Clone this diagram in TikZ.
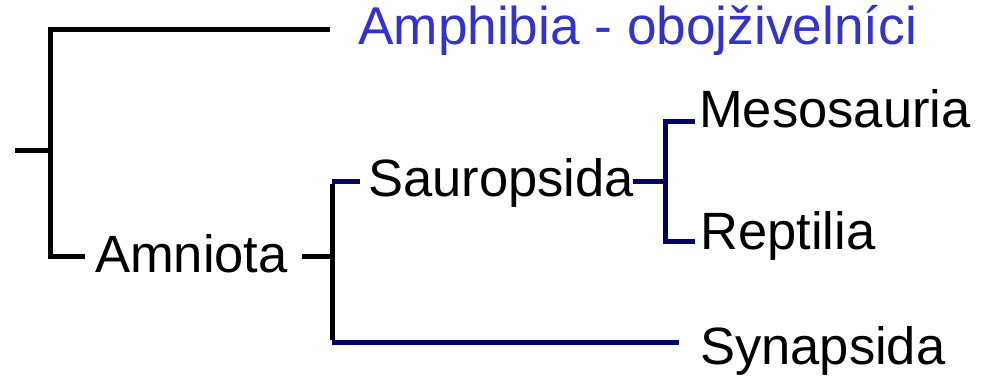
\documentclass[tikz,border=0pt]{standalone}
\usepackage{fontspec}
\setmainfont{Liberation Sans}
\definecolor{navy}{RGB}{0,0,102}
\definecolor{amphblue}{RGB}{51,51,204}
\begin{document}
\begin{tikzpicture}[
    x=1pt, y=-1pt,
    font=\fontsize{52.5}{62}\selectfont,
    % Stile für Konsistenz
    branch/.style={draw=black, line width=5pt},
    subbranch/.style={draw=navy, line width=5pt},
    taxon/.style={anchor=base west, inner sep=0pt}
]
    \useasboundingbox (0,0) rectangle (983,379);

    % ==========================================
    % TAXA
    % ==========================================
    \node[taxon, text=amphblue, font=\fontsize{53.2}{62}\selectfont] (amphibia) at (358,45) {Amphibia - obojživelníci};
    \node[taxon] (amniota) at (95,273) {Amniota};
    \node[taxon] (sauropsida) at (368,197) {Sauropsida};
    \node[taxon] (mesosauria) at (699,128) {Mesosauria};
    \node[taxon] (reptilia) at (700,250) {Reptilia};
    \node[taxon] (synapsida) at (700,365) {Synapsida};

    % ==========================================
    % KNOTEN
    % ==========================================
    \coordinate (root) at (15,151);
    \coordinate (rootJ) at (50,151);
    \coordinate (amphEnd) at (330,30);
    \coordinate (amnEnd) at (85,257);
    \coordinate (amnStub) at (302,257);
    \coordinate (amnJ) at (332,257);
    \coordinate (sauEnd) at (360,182);
    \coordinate (synEnd) at (679,343);
    \coordinate (sauStub) at (633,182);
    \coordinate (sauJ) at (665,182);
    \coordinate (mesEnd) at (695,122);
    \coordinate (repEnd) at (695,242);

    % ==========================================
    % ÄSTE
    % ==========================================
    \draw[branch] (root) -- (rootJ);
    \draw[branch] (amphEnd) -| (rootJ) |- (amnEnd);
    \draw[branch] (amnStub) -- (amnJ);

    % Sauropsida und Synapsida
    \draw[subbranch] (sauEnd) -- (sauEnd -| amnJ);
    \draw[subbranch] (synEnd) -- (synEnd -| amnJ);
    \draw[branch] ([yshift=-2.5pt]sauEnd -| amnJ) -- ([yshift=2.5pt]synEnd -| amnJ);

    % Mesosauria und Reptilia
    \draw[subbranch] (sauStub) -- (sauJ);
    \draw[subbranch] (mesEnd) -| (sauJ) |- (repEnd);

\end{tikzpicture}
\end{document}
